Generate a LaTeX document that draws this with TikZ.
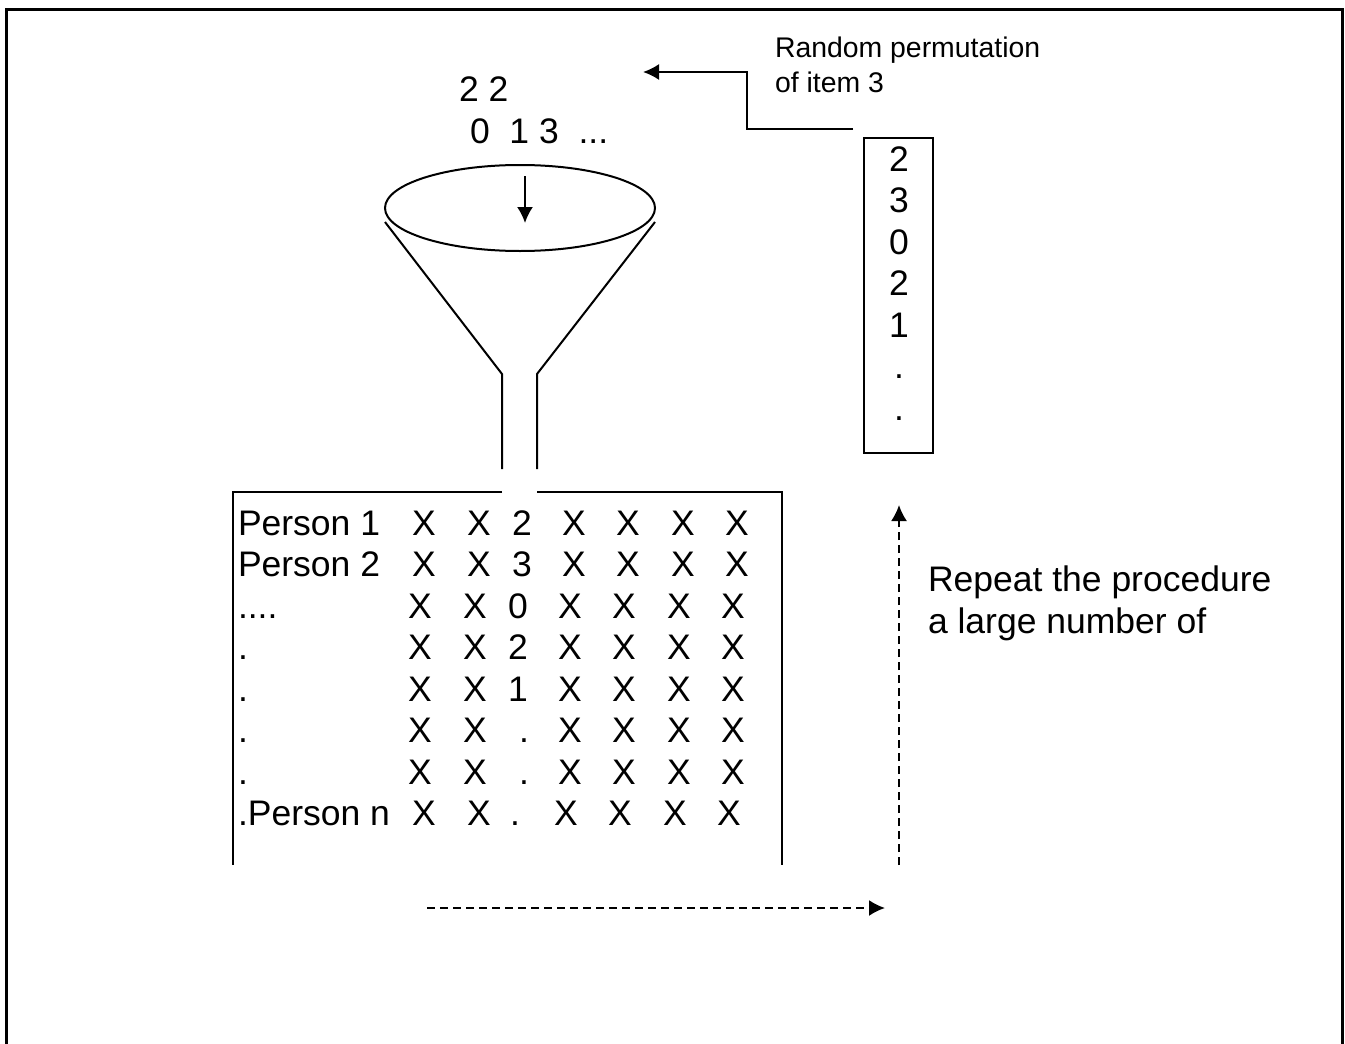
\documentclass[tikz,border=0pt]{standalone}
\usepackage{fontspec}
\setmainfont{Liberation Sans}
\usetikzlibrary{shapes.geometric, arrows.meta}
\newcommand{\bigtext}{\fontsize{17.75pt}{21pt}\selectfont}
\newcommand{\smalltext}{\fontsize{14.2pt}{17.5pt}\selectfont}
\newcommand{\fourdots}{....}

\begin{document}
\begin{tikzpicture}[x=0.5pt, y=-0.5pt, line width=1pt]
    \tikzstyle{every node}=[font=\bigtext, inner sep=0pt]
    \tikzset{
        cell/.style={anchor=base},
        lab/.style={anchor=base west},
        headed/.style={-{Latex[length=8pt, width=8pt]}},
        loopline/.style={headed, dash pattern=on 4pt off 2.5pt}
        }
    \useasboundingbox (0,0) rectangle (1345,1044);

    %frame
    \draw[line width=1.5pt] (6,1044) -- (6,9) -- (1342,9) -- (1342,1044);

    %values falling in
    \node (vals1) [lab] at (458,101) {2 2};
    \node (vals2) [lab] at (469,143) {0\ \ 1 3\ \ ...};

    %funnel
    \node (mouth) [draw, ellipse, minimum width=135pt, minimum height=43pt] at (520,208) {};
    \coordinate (dropin) at (525,176);
    \coordinate (dropout) at (525,223);
    \draw[headed] (dropin) -- (dropout);
    \draw (385,222) -- (502,374) -- (502,469);
    \draw (655,222) -- (537,374) -- (537,469);

    %data matrix
    \draw (502,492) -- (233,492) -- (233,865);
    \draw (537,492) -- (782,492) -- (782,865);
    \foreach \lab/\mid/\mx/\dl/\dr [count=\i from 0] in {Person 1/2/522/0/0, Person 2/3/522/0/0, \fourdots/0/518/-4/-4, ./2/518/-4/-4, ./1/518/-4/-4, ././524/-4/-4, ././524/-4/-4, .Person n/./515/0/-8}{
        \node (row\i) [lab] at (237,535+41.5*\i) {\lab};
        \node (mid\i) [cell] at (\mx,535+41.5*\i) {\mid};
        \foreach \x [count=\j] in {424,479}
            \node (xl\i-\j) [cell] at (\x+\dl,535+41.5*\i) {X};
        \foreach \x [count=\j] in {574,628,683,737}
            \node (xr\i-\j) [cell] at (\x+\dr,535+41.5*\i) {X};
    }

    %permuted column
    \node (perm) [draw, minimum width=34.5pt, minimum height=157.5pt] at (898.5,295.5) {};
    \foreach \v [count=\k from 0] in {2,3,0,2,1,.,.}
        \node (perm\k) [cell] at (899,171+41.5*\k) {\v};

    \node (note1) [lab, font=\smalltext] at (774,57) {Random permutation};
    \node (note2) [lab, font=\smalltext] at (774,92) {of item 3};
    \coordinate (permtail) at (853,129);
    \coordinate (permhead) at (643,72);
    \draw[headed] (permtail) -- ++(-106,0) |- (permhead);

    %repeat
    \node (rep1) [lab] at (927,591) {Repeat the procedure};
    \node (rep2) [lab] at (927,633) {a large number of};
    \coordinate (loopa) at (427,908);
    \coordinate (loopb) at (885,908);
    \coordinate (loopc) at (899,865);
    \coordinate (loopd) at (899,505);
    \draw[loopline] (loopa) -- (loopb);
    \draw[loopline] (loopc) -- (loopd);
\end{tikzpicture}
\end{document}
